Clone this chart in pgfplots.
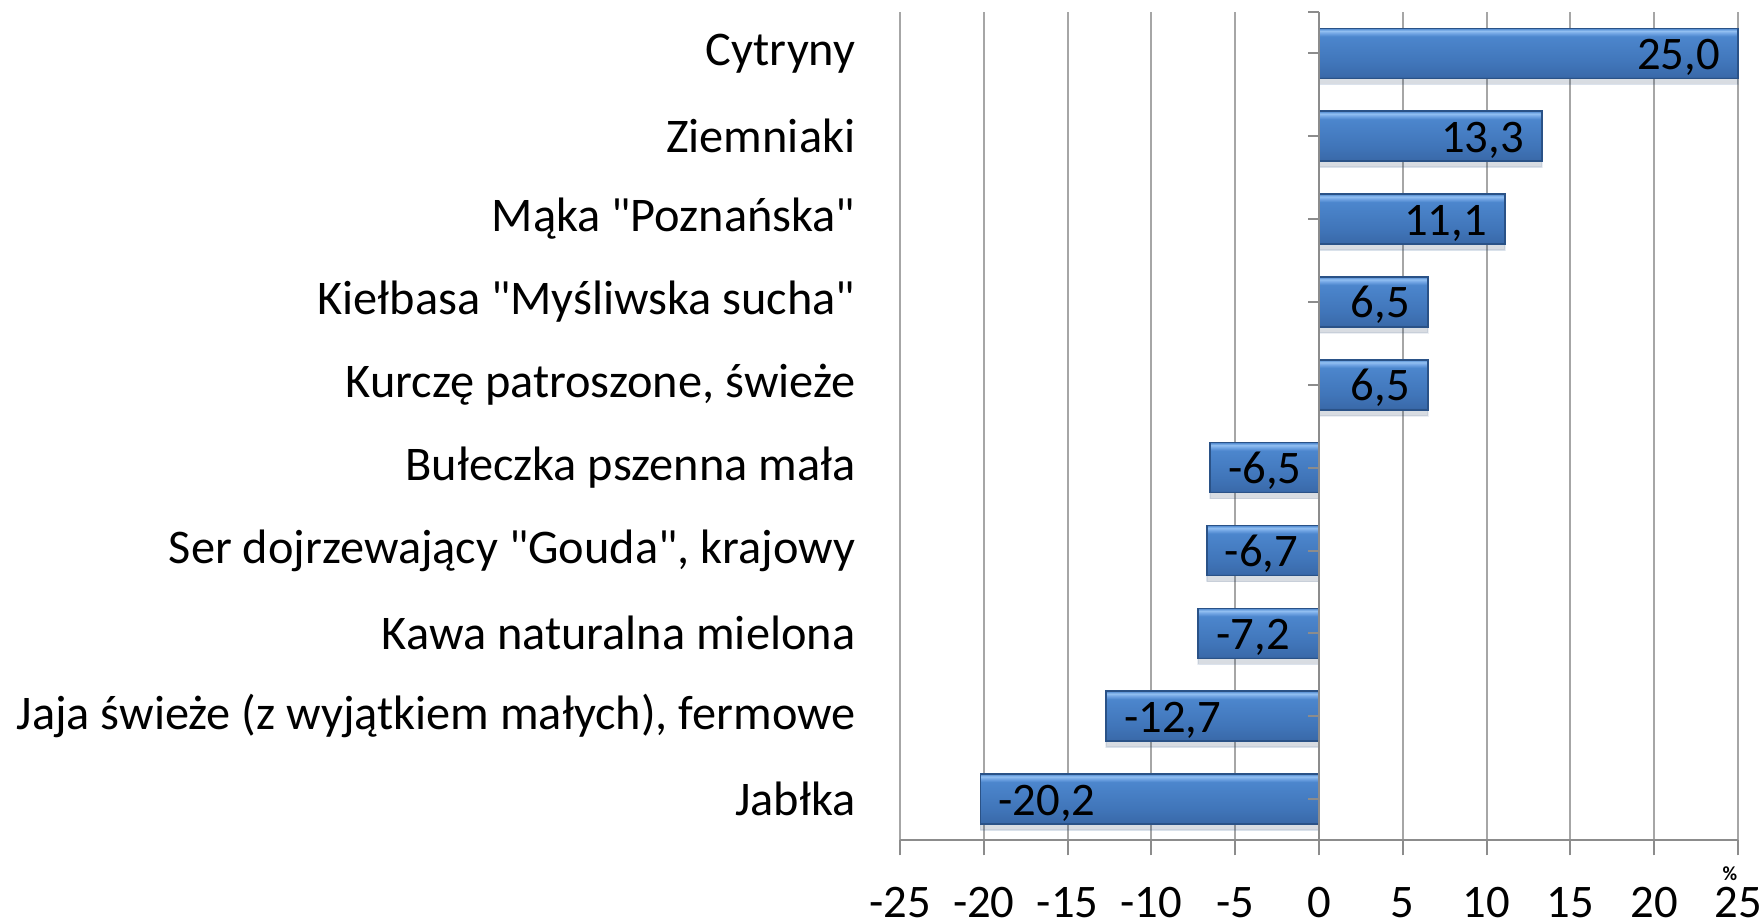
\documentclass[border=0pt]{standalone}
\usepackage{fontspec}
\setmainfont{Carlito}[Ligatures=TeXOff]
\usepackage{pgfplots}
\pgfplotsset{compat=1.18}
\definecolor{gridc}{HTML}{A6A6A6}
\definecolor{axisc}{HTML}{8C8C8C}
\definecolor{cT}{HTML}{93C0F2}
\definecolor{cT2}{HTML}{6FA3E3}
\definecolor{cM}{HTML}{4C86CD}
\definecolor{cM2}{HTML}{4075B9}
\definecolor{cM3}{HTML}{3A6AAA}
\definecolor{cB}{HTML}{2D5A94}
\definecolor{barborder}{HTML}{2A5287}
\pgfdeclareverticalshading{barshade}{100bp}{color(0bp)=(cB); color(25bp)=(cB); color(27bp)=(cM3); color(40bp)=(cM2); color(67bp)=(cM); color(70bp)=(cT2); color(72.5bp)=(cT); color(75bp)=(cM); color(100bp)=(cM)}
\pgfplotsset{
  barst/.style={shading=barshade, draw=barborder, line width=0.5pt,
    preaction={fill=black, opacity=0.09, transform canvas={yshift=-1.8pt}}},
  posn/.style={every node near coord/.append style={anchor=base east, xshift=-5.2pt, yshift=-4.8pt}},
  negn/.style={every node near coord/.append style={anchor=base west, xshift=5.2pt, yshift=-4.8pt}},
}
\begin{document}
\begin{tikzpicture}
\begin{axis}[name=ax, scale only axis, width=251.4pt, height=248.55pt,
 xmin=-25, xmax=25, ymin=0.5, ymax=10.5,
 xtick={-25,-20,...,25}, ytick={1,...,10},
 yticklabels={Jabłka, {Jaja świeże (z wyjątkiem małych), fermowe}, Kawa naturalna mielona, {Ser dojrzewający "Gouda", krajowy\hspace{0.25em}}, Bułeczka pszenna mała, {Kurczę patroszone, świeże}, {Kiełbasa "Myśliwska sucha"}, {Mąka "Poznańska"}, Ziemniaki, Cytryny},
 axis x line*=bottom, axis y line*=left,
 y axis line style={draw=none}, ytick style={draw=none},
 x axis line style={draw=axisc, line width=0.6pt},
 xtick style={draw=axisc, line width=0.6pt},
 tick align=outside, major tick length=4.5pt,
 xmajorgrids, major grid style={draw=gridc, line width=0.6pt},
 yticklabel style={font=\fontsize{14.5}{16}\selectfont, anchor=east, inner sep=0pt, xshift=-8.7pt},
 xticklabel style={font=\fontsize{14}{16}\selectfont, anchor=north, inner sep=0pt, yshift=-9.3pt},
 /pgf/number format/assume math mode=true,
 xbar, bar width=15pt, bar shift=0pt,
 point meta=x,
 nodes near coords={\pgfmathprintnumber[fixed, fixed zerofill, precision=1, use comma]{\pgfplotspointmeta}},
 every node near coord/.append style={font=\fontsize{14}{16}\selectfont, text=black, inner sep=0pt},
 clip=false,
]
\addplot[barst, posn] coordinates {(25.0,10)};
\addplot[barst, posn] coordinates {(13.3,9)};
\addplot[barst, posn] coordinates {(11.1,8)};
\addplot[barst, posn] coordinates {(6.5,7)};
\addplot[barst, posn] coordinates {(6.5,6)};
\addplot[barst, negn] coordinates {(-6.5,5)};
\addplot[barst, negn] coordinates {(-6.7,4)};
\addplot[barst, negn] coordinates {(-7.2,3)};
\addplot[barst, negn] coordinates {(-12.7,2)};
\addplot[barst, negn] coordinates {(-20.2,1)};
\draw[axisc, line width=0.6pt] (axis cs:0,0.5) -- (axis cs:0,10.5);
\pgfplotsinvokeforeach{1,...,10,10.5}{\draw[axisc, line width=0.6pt] (axis cs:0,#1) -- ++(-3.3pt,0pt);}
\node[font=\fontsize{6}{7}\selectfont\bfseries] at (rel axis cs:1,0) [xshift=-2.4pt, yshift=-10pt] {\%};
\end{axis}
\pgfresetboundingbox
\path ([shift={(-270pt,-24.75pt)}]ax.south west) rectangle ([shift={(7.2pt,3.6pt)}]ax.north east);
\end{tikzpicture}
\end{document}
